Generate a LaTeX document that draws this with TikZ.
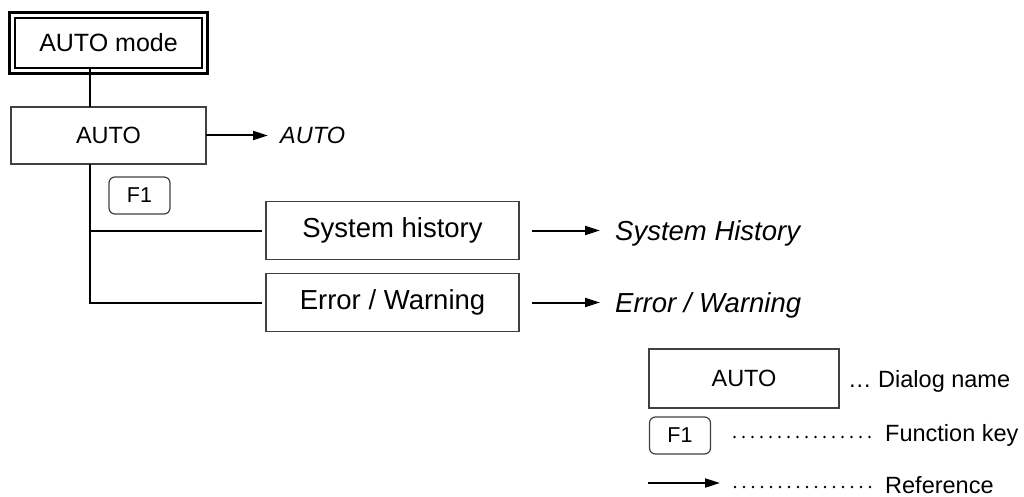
\documentclass[tikz,border=0pt]{standalone}
\usepackage{fontspec}
\setmainfont{Liberation Sans}
\usetikzlibrary{arrows.meta}

\begin{document}
\begin{tikzpicture}[x=1pt,y=-1pt,
  dlg/.style={draw=black!75,line width=1.2pt,inner sep=0pt,outer sep=0pt,
    minimum width=#1,minimum height=58pt,font=\fontsize{23.5}{28}\selectfont},
  bigtext/.style={font=\fontsize{27.5}{33}\selectfont},
  fkey/.style={draw=black!75,line width=1.2pt,rounded corners=6pt,inner sep=0pt,
    outer sep=0pt,minimum width=61pt,minimum height=37pt,font=\fontsize{21.5}{26}\selectfont},
  link/.style={line width=2pt},
  ref/.style={line width=2pt,-{Triangle[length=15pt,width=9pt]}},
  reftext/.style={anchor=base west,inner sep=0pt},
  legtext/.style={anchor=base west,inner sep=0pt,font=\fontsize{23.5}{28}\selectfont},
  dots/.style={line width=2.6pt,line cap=round,dash pattern=on 0pt off 9pt}]
  \useasboundingbox (0,0) rectangle (1024,497);
  \coordinate (spine) at (90,0);

  % mode box with double frame
  \node[dlg=187pt,minimum height=50pt,draw=black,line width=1.5pt,
    font=\fontsize{25}{30}\selectfont] (mode) at (108.5,43) {AUTO mode};
  \draw[line width=3pt] ([shift={(-5.5pt,5.5pt)}]mode.north west)
    rectangle ([shift={(5.5pt,-5.5pt)}]mode.south east);

  % dialogs
  \node[dlg=195pt,minimum height=57pt] (auto) at (108.5,135.5) {AUTO};
  \node[fkey] (f1) at (139.5,195.5) {F1};
  \node[dlg=253pt,bigtext] (sys) at (392.5,230.5) {System history};
  \node[dlg=253pt,bigtext] (err) at (392.5,302.5) {Error / Warning};

  \draw[link] (mode.south -| spine) -- (auto.north -| spine);
  \draw[link,shorten >=4pt] (auto.south -| spine) |- (err.west);
  \draw[link,shorten >=4pt] (spine |- sys.west) -- (sys.west);

  % references
  \node[reftext,font=\fontsize{23.5}{28}\itshape\selectfont] (autoref) at (280,144) {AUTO};
  \node[reftext,font=\fontsize{27.5}{33}\itshape\selectfont] (sysref) at (615,240) {System History};
  \node[reftext,font=\fontsize{27.5}{33}\itshape\selectfont] (errref) at (615,312) {Error / Warning};
  \draw[ref] (auto.east) -- ([xshift=-12pt]auto.east -| autoref.west);
  \draw[ref] ([xshift=13pt]sys.east) -- ([xshift=-15pt]sys.east -| sysref.west);
  \draw[ref] ([xshift=13pt]err.east) -- ([xshift=-15pt]err.east -| errref.west);

  % legend
  \node[dlg=190pt,minimum height=59pt] (lauto) at (744,378.5) {AUTO};
  \node[legtext] (ldlg) at (848,387) {… Dialog name};
  \node[fkey] (lf1) at (680,435.5) {F1};
  \node[legtext] (lkey) at (885,441) {Function key};
  \draw[dots] ([xshift=24pt,yshift=-1.5pt]lf1.east) -- ([xshift=-15pt,yshift=4pt]lkey.base west);
  \coordinate (larr) at (648,483);
  \draw[ref] (larr) -- ++(72,0);
  \node[legtext] (lref) at (885,493) {Reference};
  \draw[dots] ([xshift=87pt,yshift=-4pt]larr) -- ([xshift=-15pt,yshift=6pt]lref.base west);
\end{tikzpicture}
\end{document}
